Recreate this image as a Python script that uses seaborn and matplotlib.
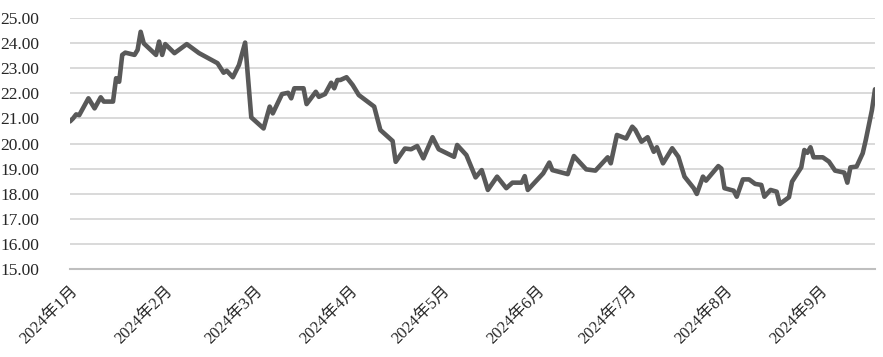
import matplotlib
matplotlib.use("Agg")
import matplotlib.pyplot as plt
import matplotlib.dates as mdates
import pandas as pd
import seaborn as sns

dates = [
    "2024-01-01", "2024-01-02", "2024-01-03", "2024-01-04", "2024-01-07", "2024-01-09",
    "2024-01-11", "2024-01-12", "2024-01-15", "2024-01-16", "2024-01-17", "2024-01-18",
    "2024-01-19", "2024-01-22", "2024-01-23", "2024-01-24", "2024-01-25", "2024-01-29",
    "2024-01-30", "2024-01-31", "2024-02-01", "2024-02-04", "2024-02-08", "2024-02-12",
    "2024-02-18", "2024-02-20", "2024-02-21", "2024-02-23", "2024-02-25", "2024-02-27",
    "2024-02-29", "2024-03-04", "2024-03-06", "2024-03-07", "2024-03-10", "2024-03-12",
    "2024-03-13", "2024-03-14", "2024-03-17", "2024-03-18", "2024-03-21", "2024-03-22",
    "2024-03-24", "2024-03-26", "2024-03-27", "2024-03-28", "2024-03-29", "2024-03-31",
    "2024-04-02", "2024-04-04", "2024-04-09", "2024-04-11", "2024-04-15", "2024-04-16",
    "2024-04-19", "2024-04-21", "2024-04-23", "2024-04-25", "2024-04-28", "2024-04-30",
    "2024-05-05", "2024-05-06", "2024-05-09", "2024-05-12", "2024-05-14", "2024-05-16",
    "2024-05-19", "2024-05-22", "2024-05-24", "2024-05-27", "2024-05-28", "2024-05-29",
    "2024-06-03", "2024-06-05", "2024-06-06", "2024-06-11", "2024-06-13", "2024-06-17",
    "2024-06-20", "2024-06-24", "2024-06-25", "2024-06-27", "2024-06-30", "2024-07-02",
    "2024-07-03", "2024-07-05", "2024-07-07", "2024-07-09", "2024-07-10", "2024-07-12",
    "2024-07-15", "2024-07-17", "2024-07-19", "2024-07-22", "2024-07-23", "2024-07-25",
    "2024-07-26", "2024-07-30", "2024-07-31", "2024-08-01", "2024-08-04", "2024-08-05",
    "2024-08-07", "2024-08-09", "2024-08-11", "2024-08-13", "2024-08-14", "2024-08-16",
    "2024-08-18", "2024-08-19", "2024-08-22", "2024-08-23", "2024-08-26", "2024-08-27",
    "2024-08-28", "2024-08-29", "2024-08-30", "2024-09-02", "2024-09-04", "2024-09-06",
    "2024-09-09", "2024-09-10", "2024-09-11", "2024-09-13", "2024-09-15", "2024-09-16",
    "2024-09-18", "2024-09-19",
]

values = [
    20.88, 21.00, 21.16, 21.13, 21.80, 21.40,
    21.84, 21.67, 21.67, 22.60, 22.46, 23.53,
    23.62, 23.53, 23.73, 24.45, 23.99, 23.53,
    24.06, 23.53, 23.96, 23.60, 23.96, 23.60,
    23.20, 22.82, 22.90, 22.64, 23.13, 24.02,
    21.04, 20.60, 21.47, 21.20, 21.97, 22.02,
    21.80, 22.20, 22.20, 21.57, 22.06, 21.86,
    21.97, 22.42, 22.20, 22.53, 22.53, 22.64,
    22.33, 21.93, 21.47, 20.54, 20.10, 19.27,
    19.80, 19.77, 19.90, 19.41, 20.25, 19.77,
    19.47, 19.94, 19.54, 18.65, 18.94, 18.15,
    18.68, 18.22, 18.44, 18.44, 18.70, 18.15,
    18.81, 19.24, 18.94, 18.78, 19.50, 18.97,
    18.92, 19.45, 19.21, 20.34, 20.20, 20.67,
    20.54, 20.07, 20.25, 19.67, 19.85, 19.21,
    19.81, 19.47, 18.68, 18.22, 17.99, 18.68,
    18.52, 19.10, 19.00, 18.22, 18.12, 17.88,
    18.57, 18.57, 18.39, 18.35, 17.88, 18.15,
    18.08, 17.59, 17.86, 18.48, 19.05, 19.74,
    19.63, 19.85, 19.45, 19.45, 19.28, 18.92,
    18.84, 18.44, 19.05, 19.08, 19.61, 20.14,
    21.33, 22.16,
]

month_ticks = ["2024-01-01", "2024-02-01", "2024-03-01", "2024-04-01", "2024-05-01",
               "2024-06-01", "2024-07-01", "2024-08-01", "2024-09-01"]
month_labels = ["2024年1月", "2024年2月", "2024年3月", "2024年4月", "2024年5月",
                "2024年6月", "2024年7月", "2024年8月", "2024年9月"]
y_ticks = [15, 16, 17, 18, 19, 20, 21, 22, 23, 24, 25]

sns.set_style("white")
plt.rcParams["font.family"] = ["Liberation Serif", "Noto Sans CJK SC", "DejaVu Sans"]

df = pd.DataFrame({"date": pd.to_datetime(dates), "value": values})

fig = plt.figure(figsize=(8.83, 3.57), dpi=100)
ax = fig.add_axes([70 / 883, 1 - 269 / 357, (875 - 70) / 883, (269 - 18) / 357])

for y in y_ticks[1:]:
    ax.axhline(y, color="#d9d9d9", linewidth=1.4, zorder=0)

sns.lineplot(data=df, x="date", y="value", ax=ax, color="#595959", linewidth=3.3, zorder=3)

ax.set_ylim(15, 25)
ax.set_xlim(df["date"].iloc[0], df["date"].iloc[-1])
ax.set_yticks(y_ticks)
ax.set_yticklabels([f"{v:.2f}" for v in y_ticks], fontsize=12.5)
ax.tick_params(axis="y", length=0, pad=22)

tick_dates = pd.to_datetime(month_ticks)
ax.set_xticks(mdates.date2num(tick_dates))
ax.set_xticklabels(month_labels, fontsize=12, rotation=45, ha="right",
                   rotation_mode="anchor")
ax.tick_params(axis="x", length=4, width=1.2, color="#bfbfbf", pad=6, direction="out")

for side in ["top", "right", "left"]:
    ax.spines[side].set_visible(False)
ax.spines["bottom"].set_color("#bfbfbf")
ax.spines["bottom"].set_linewidth(1.5)
ax.set_xlabel("")
ax.set_ylabel("")
ax.grid(False)

fig.savefig("out.png", dpi=100)
